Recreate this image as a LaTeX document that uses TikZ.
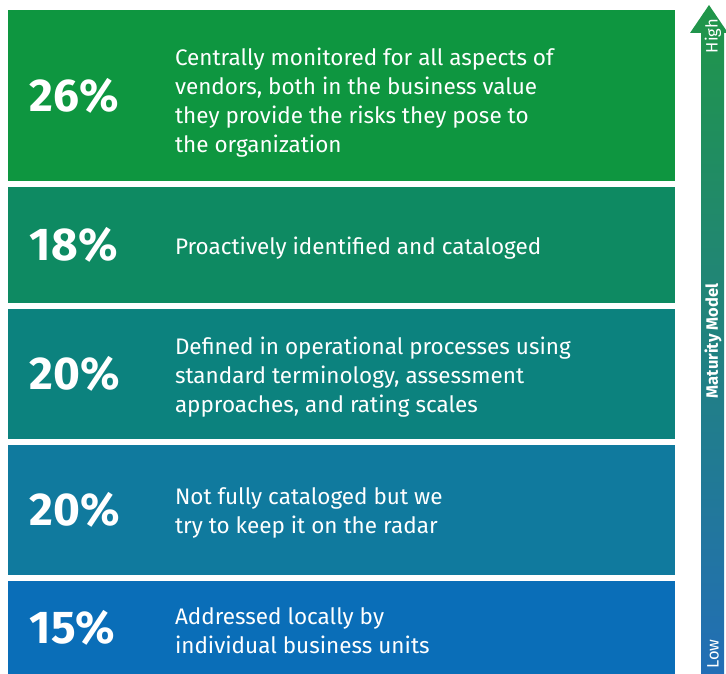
\documentclass[tikz,border=0pt]{standalone}
\usepackage{fontspec}
\setmainfont{Fira Sans}
\usepackage{tikz}
\usetikzlibrary{positioning}
\definecolor{lvlA}{RGB}{14,150,64}
\definecolor{lvlB}{RGB}{14,138,98}
\definecolor{lvlC}{RGB}{12,130,126}
\definecolor{lvlD}{RGB}{16,122,158}
\definecolor{lvlE}{RGB}{10,110,184}
\definecolor{arrTop}{RGB}{32,150,72}
\definecolor{arrMid}{RGB}{92,140,142}
\definecolor{arrBot}{RGB}{34,110,182}
\tikzstyle{band}=[rectangle, draw=none, minimum width=667pt, inner sep=0pt]
\tikzstyle{pct}=[text=white, inner sep=0pt, font=\fontsize{46}{46}\selectfont\bfseries]
\tikzstyle{desc}=[text=white, inner sep=0pt, align=left, yshift=-3pt, font=\fontsize{22.5}{29}\selectfont]
\tikzstyle{scale_lbl}=[text=white, inner sep=0pt, rotate=90, font=\fontsize{16.5}{16.5}\selectfont]

\begin{document}
\begin{tikzpicture}[x=1pt, y=-1pt]
              \useasboundingbox (0,0) rectangle (726,674);
              % maturity arrow
              \shade[top color=arrTop, middle color=arrMid, bottom color=arrBot]
                (701,674) -- (701,33) -- (690,33) -- (709,5) -- (728,33) -- (724,33) -- (724,674) -- cycle;
              \node[scale_lbl] (high) at (713,36) {High};
              \node[scale_lbl, font=\fontsize{16.5}{16.5}\selectfont\bfseries] (model) at (713,341) {Maturity Model};
              \node[scale_lbl] (low) at (713,654) {Low};
              % bands
              \node[band, fill=lvlA, minimum height=171pt] (b1) at (341.5,95.5){};
              \node[pct, right=22pt of b1.west] (p1) {26\%};
              \node[desc, right=167pt of b1.west, yshift=-4pt] (t1) {Centrally monitored for all aspects of\\vendors, both in the business value\\they provide the risks they pose to\\the organization};
              \node[band, fill=lvlB, minimum height=116pt] (b2) at (341.5,245){};
              \node[pct, right=22pt of b2.west] (p2) {18\%};
              \node[desc, right=167pt of b2.west] (t2) {Proactively identified and cataloged};
              \node[band, fill=lvlC, minimum height=130pt] (b3) at (341.5,374){};
              \node[pct, right=22pt of b3.west] (p3) {20\%};
              \node[desc, right=167pt of b3.west] (t3) {Defined in operational processes using\\standard terminology, assessment\\approaches, and rating scales};
              \node[band, fill=lvlD, minimum height=130pt] (b4) at (341.5,510){};
              \node[pct, right=22pt of b4.west] (p4) {20\%};
              \node[desc, right=167pt of b4.west] (t4) {Not fully cataloged but we\\try to keep it on the radar};
              \node[band, fill=lvlE, minimum height=93pt] (b5) at (341.5,627.5){};
              \node[pct, right=22pt of b5.west] (p5) {15\%};
              \node[desc, right=167pt of b5.west] (t5) {Addressed locally by\\individual business units};
            \end{tikzpicture}
\end{document}
